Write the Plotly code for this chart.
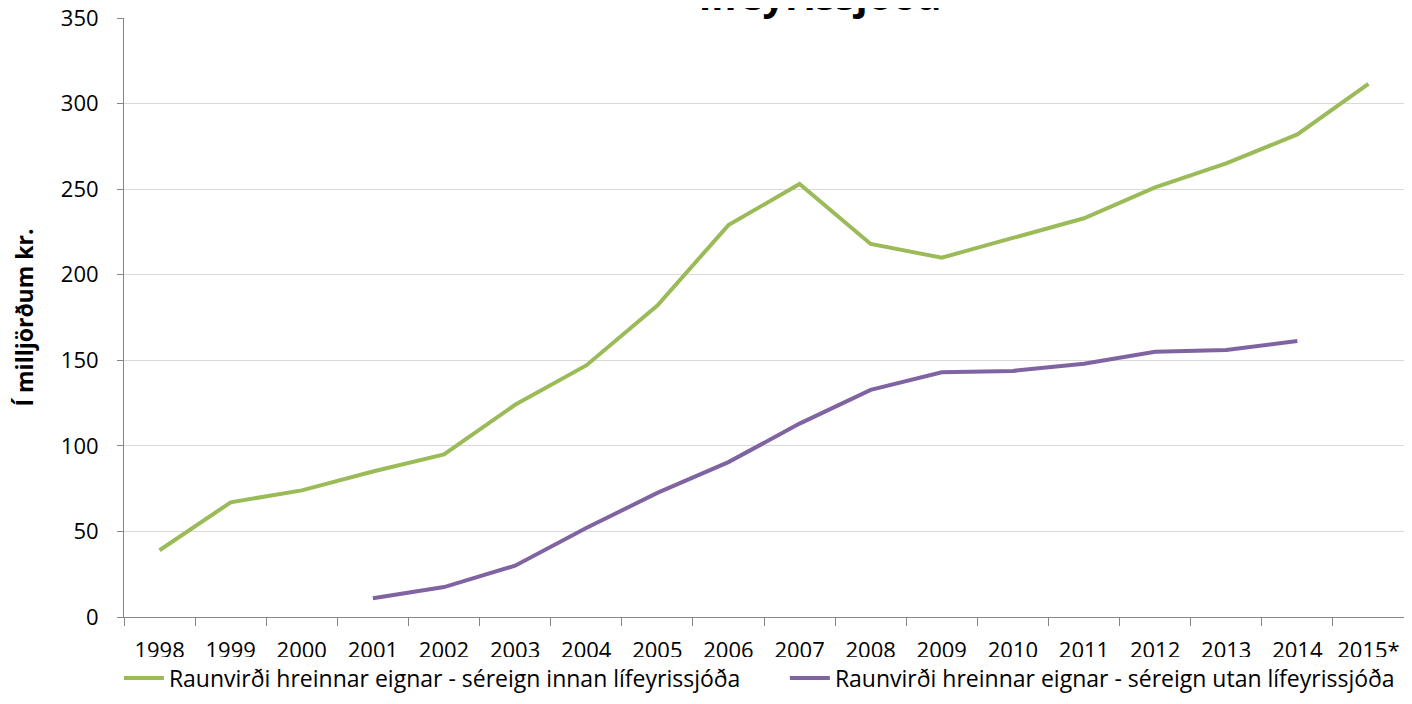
import plotly.graph_objects as go

years = ["1998", "1999", "2000", "2001", "2002", "2003", "2004", "2005", "2006",
         "2007", "2008", "2009", "2010", "2011", "2012", "2013", "2014", "2015*"]
innan = [39, 67, 74, 85, 95, 124, 147, 182, 229, 253, 218, 210, 221.5, 233, 251, 265, 282, 311.5]
utan = [None, None, None, 11, 17.5, 30, 52, 72.5, 90.5, 113, 132.7, 143, 143.8, 148, 155, 156, 161.3, None]

name_innan = "Raunvirði hreinnar eignar - séreign innan lífeyrissjóða"
name_utan = "Raunvirði hreinnar eignar - séreign utan lífeyrissjóða"
title_text = "lífeyrissjóða"
y_title = "Í milljörðum kr."

fig = go.Figure()
fig.add_trace(go.Scatter(x=years, y=innan, mode="lines", name=name_innan,
                         line=dict(color="#9BBB59", width=4)))
fig.add_trace(go.Scatter(x=years, y=utan, mode="lines", name=name_utan,
                         line=dict(color="#8064A2", width=4)))

font_family = "Open Sans, Liberation Sans, sans-serif"
fig.update_layout(
    width=1396, height=688,
    margin=dict(l=116, r=0, t=10, b=79, autoexpand=False),
    plot_bgcolor="white", paper_bgcolor="white",
    font=dict(family=font_family, size=22, color="black"),
    showlegend=True,
    legend=dict(orientation="h", x=-0.004, xanchor="left", y=-0.066, yanchor="top",
                font=dict(size=23), entrywidth=611, entrywidthmode="pixels",
                itemwidth=40, tracegroupgap=0),
    xaxis=dict(type="category", range=[-0.5, 17.5], showline=True, linecolor="#868686", linewidth=1,
               ticks="outside", tickson="boundaries", ticklen=8, tickcolor="#868686",
               showgrid=False, tickfont=dict(size=22), ticklabelstandoff=14,
               tickangle=0, ticklabeloverflow="allow"),
    yaxis=dict(range=[0, 350], dtick=50, showline=True, linecolor="#868686", linewidth=1,
               ticks="outside", ticklen=6, tickcolor="#868686",
               gridcolor="#D9D9D9", gridwidth=1, zeroline=False,
               tickfont=dict(size=22), ticklabelstandoff=14, ticklabeloverflow="allow",
               title=dict(text="<b>" + y_title + "</b>", font=dict(size=23), standoff=46)),
)
fig.add_annotation(text="<b>" + title_text + "</b>", xref="paper", yref="paper",
                   x=(812 - 116) / 1280, y=1, yanchor="bottom", yshift=-6,
                   showarrow=False, font=dict(size=40, family=font_family))

fig.write_html("out.html")
